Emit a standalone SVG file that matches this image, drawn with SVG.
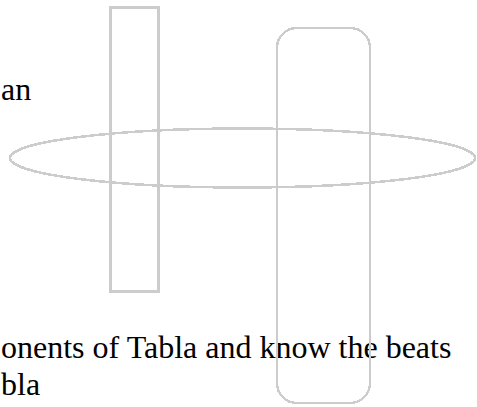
<svg xmlns="http://www.w3.org/2000/svg" width="477" height="407" viewBox="0 0 477 407">
<style>
.t{font-family:"Liberation Serif","Times New Roman",serif;font-size:32px;fill:#000}
.s{fill:none;stroke:#cccccc;stroke-width:2.5;shape-rendering:crispEdges}
</style>
<rect width="477" height="407" fill="#fff"/>
<g id="texts">
<text class="t" x="1" y="100">an</text>
<text class="t" x="1" y="358">onents of Tabla and know the beats</text>
<text class="t" x="1" y="395">bla</text>
</g>
<g id="rect-tall"><rect class="s" x="110.5" y="7.5" width="48" height="284"/></g>
<g id="rounded-rect"><rect class="s" x="277" y="28" width="93" height="375" rx="20" ry="20"/></g>
<g id="ellipse"><ellipse class="s" cx="242.5" cy="158" rx="232.5" ry="29.5"/></g>
<g id="connectors"></g>
</svg>
